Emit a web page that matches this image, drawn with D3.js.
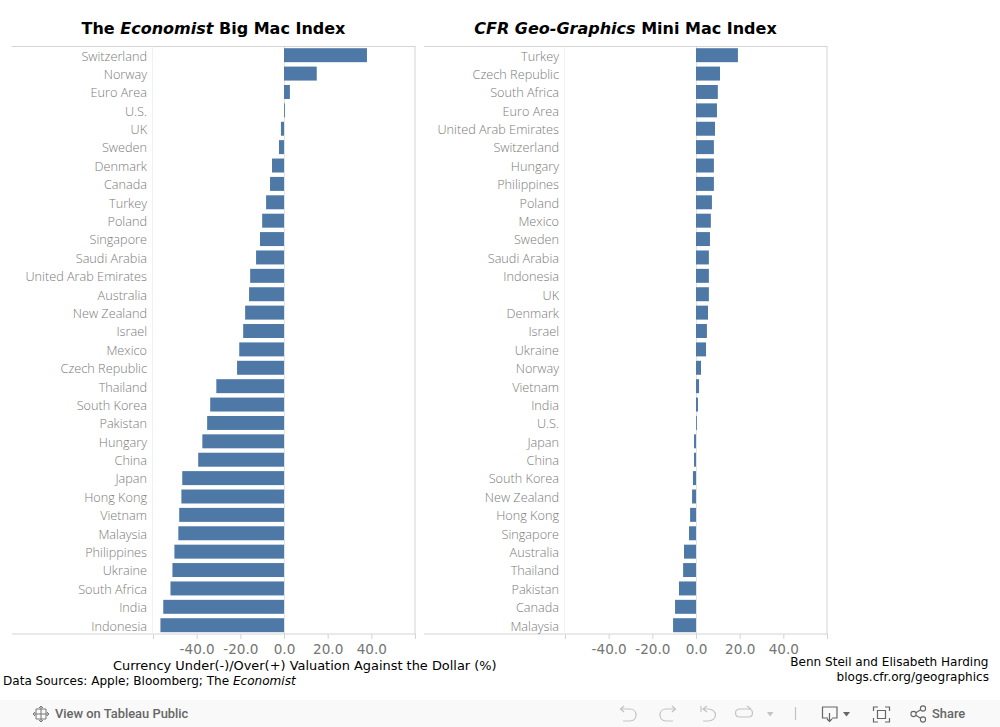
<!DOCTYPE html>
<html lang="en">
<head>
<meta charset="UTF-8">
<title>Big Mac Index vs Mini Mac Index</title>
<script src="https://d3js.org/d3.v7.min.js"></script>
<style>
  html, body { margin: 0; padding: 0; background: #fff; overflow: hidden; }
  svg { display: block; }
  .title { font-family: "DejaVu Sans"; font-weight: bold; font-size: 16px; fill: #000; text-anchor: middle; }
  .cat text { font-family: "Open Sans"; font-weight: 300; font-size: 12.7px; fill: #7a7a7a; }
  .val text { font-family: "DejaVu Sans"; font-size: 13.6px; fill: #757575; }
  .note { font-family: "DejaVu Sans"; font-size: 12.05px; fill: #000; }
  .toolbar text { font-family: Roboto; font-size: 12.9px; fill: #666; font-weight: 500; }
</style>
</head>
<body>
<svg id="chart" width="1000" height="727"></svg>
<script>
const bigMacCountries = ["Switzerland","Norway","Euro Area","U.S.","UK","Sweden","Denmark","Canada","Turkey","Poland","Singapore","Saudi Arabia","United Arab Emirates","Australia","New Zealand","Israel","Mexico","Czech Republic","Thailand","South Korea","Pakistan","Hungary","China","Japan","Hong Kong","Vietnam","Malaysia","Philippines","Ukraine","South Africa","India","Indonesia"];
const bigMacValues = [38, 15, 2.7, 0.4, -1.4, -2.3, -5.5, -6.4, -8.2, -10, -11, -12.8, -15.5, -16, -17.8, -18.7, -20.5, -21.5, -31, -33.8, -35.2, -37.4, -39.3, -46.6, -47, -48, -48.4, -50.2, -51.1, -52, -55.3, -56.6];

const miniMacCountries = ["Turkey","Czech Republic","South Africa","Euro Area","United Arab Emirates","Switzerland","Hungary","Philippines","Poland","Mexico","Sweden","Saudi Arabia","Indonesia","UK","Denmark","Israel","Ukraine","Norway","Vietnam","India","U.S.","Japan","China","South Korea","New Zealand","Hong Kong","Singapore","Australia","Thailand","Pakistan","Canada","Malaysia"];
const miniMacValues = [19.2, 11, 10, 9.6, 8.7, 8.2, 8.2, 8.2, 7.3, 6.8, 6.4, 5.9, 5.9, 5.9, 5.5, 5, 4.6, 2.3, 1.4, 0.9, 0.4, -0.9, -0.9, -1.4, -1.8, -2.7, -3.2, -5.5, -5.9, -7.8, -9.6, -10.5];

const axisTicks = [-60, -40, -20, 0, 20, 40, 60];
const axisDomain = [-60, 60];

const svg = d3.select("#chart");
const gridColor = "#d4d4d4";
const barColor = "#4e79a7";
const plotTop = 46.5, plotBottom = 634;

function drawPanel(names, values, left, plotLeft, plotRight) {
  const x = d3.scaleLinear().domain(axisDomain).range([plotLeft, plotRight]);
  const y = d3.scaleBand().domain(names).range([46, 634.4]).paddingInner(0.24).paddingOuter(0.12);
  const g = svg.append("g");

  // frame
  g.append("line").attr("x1", left).attr("x2", plotRight + 0.5).attr("y1", plotTop).attr("y2", plotTop).attr("stroke", gridColor);
  g.append("line").attr("x1", left).attr("x2", plotRight + 0.5).attr("y1", plotBottom).attr("y2", plotBottom).attr("stroke", gridColor);
  g.append("line").attr("x1", plotRight).attr("x2", plotRight).attr("y1", plotTop).attr("y2", plotBottom).attr("stroke", gridColor);
  g.append("line").attr("x1", plotLeft - 0.5).attr("x2", plotLeft - 0.5).attr("y1", plotTop).attr("y2", plotBottom).attr("stroke", "#f1f1f1");

  // zero line sits behind the bars and shows in the gaps
  g.append("line").attr("x1", x(0) + 0.5).attr("x2", x(0) + 0.5).attr("y1", plotTop).attr("y2", plotBottom)
    .attr("stroke", "#c4c4c4").attr("stroke-dasharray", "1,1");

  g.selectAll("rect").data(names).join("rect")
    .attr("x", (d, i) => Math.min(x(0), x(values[i])))
    .attr("y", d => y(d))
    .attr("width", (d, i) => Math.abs(x(values[i]) - x(0)))
    .attr("height", y.bandwidth())
    .attr("fill", barColor);

  // country labels
  const cat = g.append("g").attr("class", "cat")
    .attr("transform", "translate(" + plotLeft + ",0)")
    .call(d3.axisLeft(y).tickSize(0).tickPadding(6));
  cat.select(".domain").remove();
  cat.selectAll("text").attr("dy", "0.42em");

  // value axis
  const val = g.append("g").attr("class", "val")
    .attr("transform", "translate(0," + plotBottom + ")")
    .call(d3.axisBottom(x).tickValues(axisTicks).tickSize(5).tickPadding(5.5)
      .tickFormat(d => Math.abs(d) == 60 ? "" : d.toFixed(1)));
  val.select(".domain").remove();
  val.selectAll("line").attr("stroke", gridColor);
}

drawPanel(bigMacCountries, bigMacValues, 12, 153, 415);
drawPanel(miniMacCountries, miniMacValues, 424, 565, 827);

// titles
let t1 = svg.append("text").attr("class", "title").attr("x", 213.5).attr("y", 34);
t1.append("tspan").text("The ");
t1.append("tspan").attr("font-style", "italic").text("Economist");
t1.append("tspan").text(" Big Mac Index");

let t2 = svg.append("text").attr("class", "title").attr("x", 625.5).attr("y", 34);
t2.append("tspan").attr("font-style", "italic").text("CFR Geo-Graphics");
t2.append("tspan").text(" Mini Mac Index");

// notes under the charts
svg.append("text").attr("class", "note").attr("x", 113).attr("y", 670).style("font-size", "12.93px")
  .text("Currency Under(-)/Over(+) Valuation Against the Dollar (%)");
let src = svg.append("text").attr("class", "note").attr("x", 3).attr("y", 685);
src.append("tspan").text("Data Sources: Apple; Bloomberg; The ");
src.append("tspan").attr("font-style", "italic").text("Economist");
svg.append("text").attr("class", "note").attr("x", 988.5).attr("y", 666).attr("text-anchor", "end")
  .text("Benn Steil and Elisabeth Harding");
svg.append("text").attr("class", "note").attr("x", 989).attr("y", 681).attr("text-anchor", "end")
  .text("blogs.cfr.org/geographics");

// tableau toolbar
const bar = svg.append("g").attr("class", "toolbar");
bar.append("rect").attr("x", 0).attr("y", 700).attr("width", 1000).attr("height", 27).attr("fill", "#f9f9f9");
bar.append("text").attr("x", 55).attr("y", 718).text("View on Tableau Public");
bar.append("text").attr("x", 932).attr("y", 718).text("Share");

function icon(d, color, w) {
  bar.append("path").attr("d", d).attr("fill", "none").attr("stroke", color).attr("stroke-width", w || 1.2);
}
// logo
icon("M41 706V722M33 714H49M36 709H46M36 719H46M36 709V719M46 709V719M41 706L39 708M41 706L43 708M41 722L39 720M41 722L43 720M33 714L35 712M33 714L35 716M49 714L47 712M49 714L47 716", "#777", 1);
// undo, redo, revert, refresh
icon("M621 709H630C638 709 638 721 630 721H623M624 706L620.5 709L624 712", "#c4c4c4");
icon("M675 709H666C658 709 658 721 666 721H673M672 706L675.5 709L672 712", "#c4c4c4");
icon("M701 706V712M704 709H708C718 709 718 721 708 721H703M707 706L703 709L707 712", "#c4c4c4");
icon("M748 709H740C734 709 734 717 740 717H748C754 717 754 709 748 709M747 706L751 709", "#c4c4c4");
bar.append("path").attr("d", "M767 712H773.5L770 716.5Z").attr("fill", "#c4c4c4");
icon("M795.5 707V720", "#c4c4c4");
// download
icon("M828 718H822.5V707H837V718H832M829.5 713V721M827 719L829.5 721.5L832 719", "#666");
bar.append("path").attr("d", "M843 712H850L846.5 716.5Z").attr("fill", "#666");
// fullscreen
icon("M873.5 711V707H878M885 707H889.5V711M889.5 718V722H885M878 722H873.5V718M877.5 710.5H885.5V718.5H877.5Z", "#666");
// share
bar.append("g").selectAll("circle").data([[913.5, 714], [923, 708.5], [923, 719.5]]).join("circle")
  .attr("cx", d => d[0]).attr("cy", d => d[1]).attr("r", 2.6).attr("fill", "none").attr("stroke", "#666").attr("stroke-width", 1.1);
icon("M915.8 712.7L920.7 709.8M915.8 715.3L920.7 718.2", "#666", 1.1);
</script>
</body>
</html>
